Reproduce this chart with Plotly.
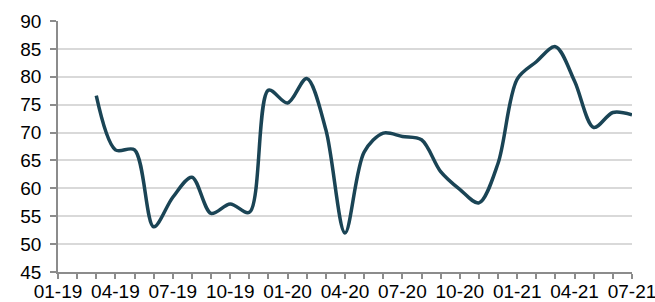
import plotly.graph_objects as go

# Monthly observations (month label MM-YY) and values
months = ["03-19", "04-19", "05-19", "06-19", "07-19", "08-19", "09-19", "10-19",
          "11-19", "12-19", "01-20", "02-20", "03-20", "04-20", "05-20", "06-20",
          "07-20", "08-20", "09-20", "10-20", "11-20", "12-20", "01-21", "02-21",
          "03-21", "04-21", "05-21", "06-21", "07-21"]
values = [76.6, 66.9, 66.9, 53.1, 58.4, 62.0, 55.5, 57.2,
          55.7, 77.6, 75.3, 79.7, 70.5, 52.0, 66.5, 69.9,
          69.3, 68.7, 63.0, 59.8, 57.4, 64.5, 79.6, 82.7,
          85.4, 79.2, 70.9, 73.6, 73.2]

tick_labels = ["01-19", "04-19", "07-19", "10-19", "01-20", "04-20",
               "07-20", "10-20", "01-21", "04-21", "07-21"]
y_ticks = [45, 50, 55, 60, 65, 70, 75, 80, 85, 90]


def month_index(lbl):
    mm, yy = lbl.split("-")
    return (int(yy) - 19) * 12 + int(mm) - 1


x_vals = [month_index(m) for m in months]
tick_pos = [month_index(t) for t in tick_labels]

fig = go.Figure()
fig.add_trace(go.Scatter(
    x=x_vals, y=values, mode="lines",
    line=dict(color="#1a4455", width=3.5, shape="spline", smoothing=0.9),
    hoverinfo="skip", showlegend=False,
))

font = dict(family="Liberation Sans, Arial, sans-serif", size=19, color="#000000")

fig.update_layout(
    width=655, height=302,
    margin=dict(l=58, r=23, t=21, b=30, pad=0),
    paper_bgcolor="white", plot_bgcolor="white",
    font=font,
    xaxis=dict(
        range=[0, 30], tickmode="array", tickvals=tick_pos, ticktext=tick_labels,
        showgrid=False, zeroline=False, automargin=False,
        ticklabeloverflow="allow",
        showline=True, linecolor="#8c8c8c", linewidth=1.5,
        ticks="outside", ticklen=5, tickwidth=1.5, tickcolor="#8c8c8c",
        minor=dict(dtick=1, tick0=0, ticks="outside", ticklen=5, tickwidth=1.5,
                   tickcolor="#8c8c8c", showgrid=False),
        tickfont=font, ticklabelstandoff=-4,
    ),
    yaxis=dict(
        range=[45, 90], tickmode="array", tickvals=y_ticks,
        showgrid=True, gridcolor="#d9d9d9", gridwidth=1.5, zeroline=False,
        automargin=False, ticklabeloverflow="allow",
        showline=True, linecolor="#8c8c8c", linewidth=1.5,
        ticks="outside", ticklen=6, tickwidth=1.5, tickcolor="#8c8c8c",
        tickfont=font, ticklabelstandoff=5,
    ),
)

fig.write_html("out.html", config={"displayModeBar": False},
               post_script="document.body.style.margin='0';")
